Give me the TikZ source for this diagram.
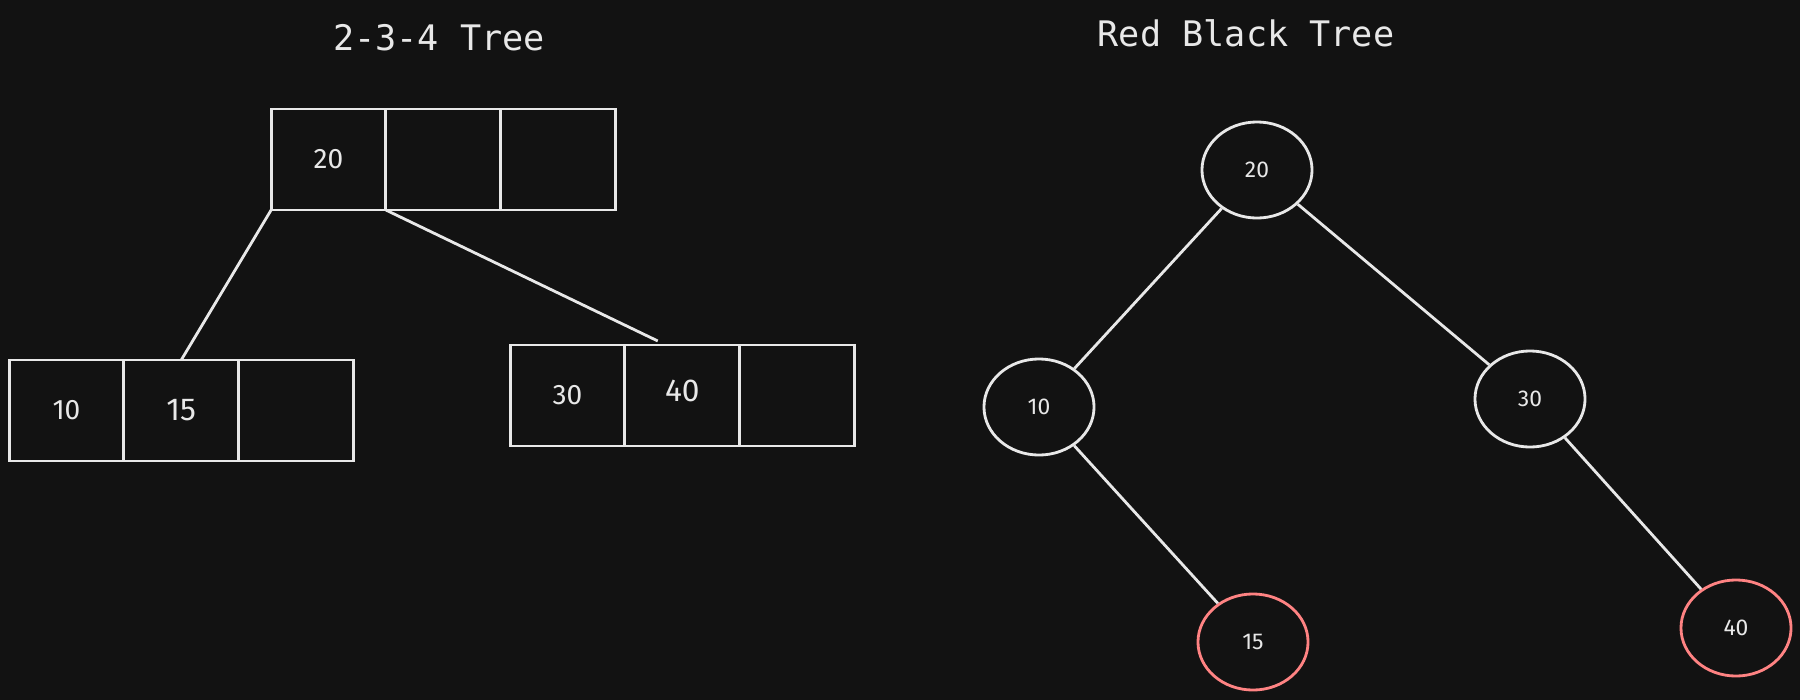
\documentclass[tikz,border=0pt]{standalone}
\usepackage{fontspec}
\setmainfont{Fira Sans}
\setmonofont{DejaVu Sans Mono}
\usetikzlibrary{positioning,shapes.geometric}
\definecolor{bg}{HTML}{121212}
\definecolor{ink}{HTML}{E8E8E8}
\definecolor{redink}{HTML}{FF8383}

\begin{document}
\begin{tikzpicture}[x=0.01cm,y=-0.01cm,
    cell/.style={draw=ink,line width=0.8pt,minimum width=1.147cm,minimum height=1.01cm,
      inner sep=0pt,outer sep=0pt,text=ink,font=\fontsize{8}{8}\selectfont},
    bigcell/.style={cell,font=\fontsize{9}{9}\selectfont},
    rbnode/.style={ellipse,draw=ink,line width=0.8pt,minimum width=1.1cm,minimum height=0.96cm,
      inner sep=0pt,text=ink,font=\fontsize{6.5}{6.5}\selectfont},
    rednode/.style={rbnode,draw=redink},
    link/.style={draw=ink,line width=0.8pt},
    title/.style={text=ink,font=\ttfamily\fontsize{10}{10}\selectfont}]
  \fill[bg] (0,0) rectangle (1800,700);
  \useasboundingbox (0,0) rectangle (1800,700);

  % titles
  \node[title] (ttree) at (439,38) {2-3-4 Tree};
  \node[title] (trb) at (1246,33) {Red Black Tree};

  % 2-3-4 tree
  \node[cell] (t1) at (328.5,159.5) {20};
  \node[cell,right=0pt of t1] (t2) {};
  \node[cell,right=0pt of t2] (t3) {};

  \node[cell] (l1) at (66.5,410.5) {10};
  \node[bigcell,right=0pt of l1] (l2) {15};
  \node[cell,right=0pt of l2] (l3) {};

  \node[cell] (r1) at (567.5,395.5) {30};
  \node[bigcell,right=0pt of r1] (r2) {\raisebox{2.5pt}{40}};
  \node[cell,right=0pt of r2] (r3) {};

  \coordinate (rtop) at ([xshift=-0.245cm,yshift=0.04cm]r2.north);
  \draw[link] (t1.south west) -- (l2.north);
  \draw[link] (t1.south east) -- (rtop);

  % red black tree
  \node[rbnode] (n20) at (1257,170) {20};
  \node[rbnode] (n10) at (1039,407) {10};
  \node[rbnode] (n30) at (1530,399) {30};
  \node[rednode] (n15) at (1253,642) {15};
  \node[rednode] (n40) at (1736,628) {40};

  \foreach \a/\b in {n20/n10,n20/n30,n10/n15,n30/n40}
    \draw[link] (\a) -- (\b);
\end{tikzpicture}
\end{document}
